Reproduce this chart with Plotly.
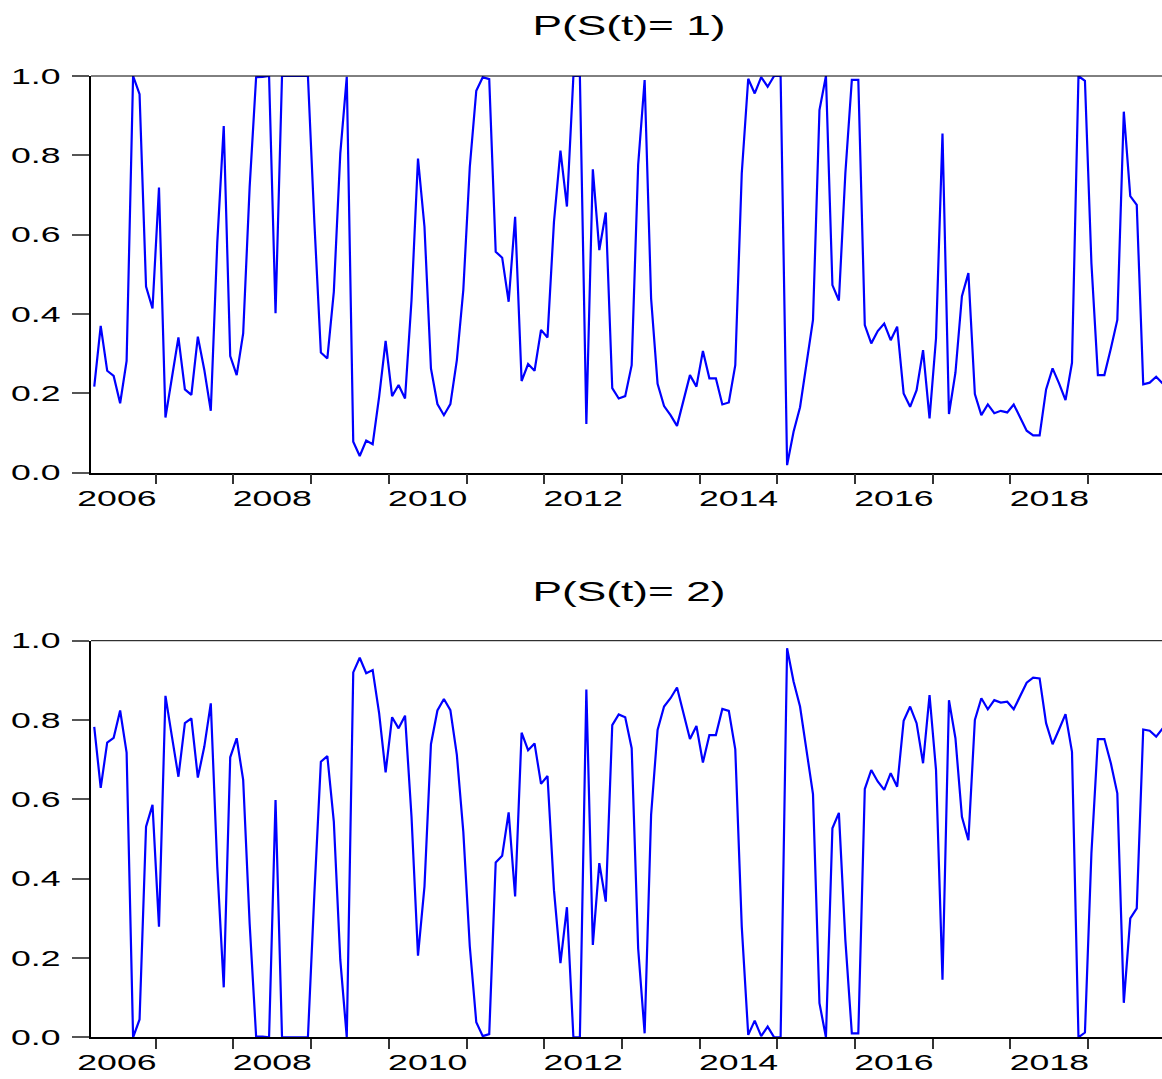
import plotly.graph_objects as go

# ---------------- data (monthly, starting 2006M3) ----------------
start_year = 2006
start_month = 3

p_state1 = [
    0.217, 0.370, 0.257, 0.244, 0.175, 0.282, 1.000, 0.954, 0.469, 0.414,
    0.719, 0.139, 0.240, 0.341, 0.210, 0.196, 0.343, 0.259, 0.156, 0.580,
    0.874, 0.294, 0.246, 0.351, 0.720, 0.997, 0.998, 1.000, 0.402, 1.000,
    1.000, 1.000, 1.000, 1.000, 0.630, 0.303, 0.288, 0.456, 0.805, 0.998,
    0.078, 0.042, 0.081, 0.072, 0.192, 0.332, 0.193, 0.221, 0.187, 0.435,
    0.792, 0.620, 0.263, 0.173, 0.145, 0.173, 0.284, 0.461, 0.771, 0.963,
    0.997, 0.992, 0.557, 0.542, 0.431, 0.645, 0.231, 0.274, 0.257, 0.360,
    0.341, 0.633, 0.812, 0.671, 1.000, 1.000, 0.123, 0.765, 0.561, 0.656,
    0.213, 0.187, 0.193, 0.271, 0.776, 0.990, 0.439, 0.224, 0.168, 0.145,
    0.118, 0.183, 0.246, 0.217, 0.307, 0.238, 0.238, 0.172, 0.177, 0.271,
    0.755, 0.993, 0.956, 0.997, 0.973, 1.000, 1.000, 0.019, 0.103, 0.165,
    0.280, 0.385, 0.914, 1.000, 0.473, 0.434, 0.755, 0.990, 0.990, 0.372,
    0.326, 0.357, 0.376, 0.334, 0.368, 0.200, 0.166, 0.208, 0.309, 0.137,
    0.339, 0.855, 0.148, 0.252, 0.445, 0.503, 0.198, 0.145, 0.172, 0.150,
    0.156, 0.152, 0.172, 0.139, 0.106, 0.094, 0.094, 0.210, 0.263, 0.225,
    0.183, 0.277, 1.000, 0.988, 0.528, 0.246, 0.246, 0.313, 0.385, 0.910,
    0.697, 0.675, 0.223, 0.227, 0.242, 0.225,
]

p_state2 = [
    0.783, 0.629, 0.743, 0.755, 0.824, 0.718, 0.000, 0.045, 0.531, 0.586,
    0.279, 0.861, 0.758, 0.657, 0.792, 0.804, 0.655, 0.733, 0.842, 0.430,
    0.126, 0.706, 0.754, 0.649, 0.287, 0.002, 0.002, 0.000, 0.598, 0.000,
    0.000, 0.000, 0.000, 0.000, 0.363, 0.695, 0.709, 0.544, 0.195, 0.000,
    0.920, 0.957, 0.918, 0.926, 0.817, 0.668, 0.807, 0.779, 0.811, 0.556,
    0.206, 0.380, 0.739, 0.824, 0.853, 0.825, 0.712, 0.518, 0.229, 0.038,
    0.003, 0.008, 0.441, 0.458, 0.567, 0.355, 0.768, 0.724, 0.741, 0.639,
    0.659, 0.371, 0.187, 0.328, 0.000, 0.000, 0.877, 0.233, 0.439, 0.342,
    0.787, 0.814, 0.807, 0.729, 0.224, 0.010, 0.561, 0.775, 0.834, 0.855,
    0.882, 0.817, 0.752, 0.785, 0.693, 0.762, 0.762, 0.828, 0.823, 0.726,
    0.279, 0.006, 0.042, 0.003, 0.027, 0.000, 0.000, 0.981, 0.897, 0.834,
    0.720, 0.613, 0.086, 0.000, 0.527, 0.566, 0.245, 0.010, 0.010, 0.626,
    0.674, 0.645, 0.624, 0.666, 0.632, 0.798, 0.834, 0.792, 0.691, 0.863,
    0.674, 0.145, 0.850, 0.754, 0.556, 0.497, 0.800, 0.855, 0.827, 0.850,
    0.844, 0.846, 0.827, 0.861, 0.894, 0.907, 0.905, 0.792, 0.739, 0.776,
    0.815, 0.720, 0.000, 0.012, 0.464, 0.752, 0.752, 0.691, 0.615, 0.087,
    0.300, 0.325, 0.776, 0.773, 0.758, 0.779,
]

panel_titles = ["P(S(t)= 1)", "P(S(t)= 2)"]
year_labels = ["2006", "2008", "2010", "2012", "2014", "2016", "2018"]
y_tick_values = [0.0, 0.2, 0.4, 0.6, 0.8, 1.0]
first_year_tick = 2007
last_year_tick = 2019

# ---------------- derived positions ----------------
x_vals = [start_year + (start_month - 1 + i + 0.5) / 12 for i in range(len(p_state1))]
label_pos = [int(l) + 0.5 for l in year_labels]
year_ticks = list(range(first_year_tick, last_year_tick + 1))
x_range = [start_year + (start_month - 1) / 12, 2019.95]

W, H = 1162, 1079
FONT = "Liberation Sans"
BLUE = "#0000FF"

fig = go.Figure()
fig.add_trace(go.Scatter(x=x_vals, y=p_state1, mode="lines",
                         line=dict(color=BLUE, width=2.2), xaxis="x", yaxis="y",
                         showlegend=False, hoverinfo="skip"))
fig.add_trace(go.Scatter(x=x_vals, y=p_state2, mode="lines",
                         line=dict(color=BLUE, width=2.2), xaxis="x2", yaxis="y2",
                         showlegend=False, hoverinfo="skip"))

x_dom = [91 / W, 1.0]
top_dom = [1 - 472.7 / H, 1 - 76.0 / H]
bot_dom = [1 - 1037.3 / H, 1 - 640.7 / H]


def xaxis_cfg(anchor):
    return dict(
        domain=x_dom, anchor=anchor, range=x_range, fixedrange=True, automargin=False,
        tickmode="array", tickvals=label_pos, ticktext=year_labels,
        ticks="outside", ticklen=2, tickcolor="rgba(0,0,0,0)",
        ticklabelstandoff=3,
        tickfont=dict(family=FONT, size=22, color="black"),
        showgrid=False, zeroline=False,
        showline=True, linecolor="black", linewidth=1.5,
        minor=dict(tickmode="array", tickvals=year_ticks, ticks="outside",
                   ticklen=10, tickwidth=1.5, tickcolor="#333", showgrid=False),
    )


def yaxis_cfg(anchor, dom):
    return dict(
        domain=dom, anchor=anchor, range=[0, 1], fixedrange=True, automargin=False,
        tickmode="array", tickvals=y_tick_values,
        ticktext=[f"{v:.1f}" for v in y_tick_values],
        ticks="outside", ticklen=17, tickwidth=1.5, tickcolor="#555",
        ticklabelstandoff=7,
        tickfont=dict(family=FONT, size=22, color="black"),
        showgrid=False, zeroline=False,
        showline=True, linecolor="black", linewidth=2,
    )


fig.update_layout(
    template="none",
    width=W, height=H,
    margin=dict(l=0, r=0, t=0, b=0, autoexpand=False),
    paper_bgcolor="white", plot_bgcolor="white",
    xaxis=xaxis_cfg("y"), yaxis=yaxis_cfg("x", top_dom),
    xaxis2=xaxis_cfg("y2"), yaxis2=yaxis_cfg("x2", bot_dom),
    shapes=[
        dict(type="line", xref="x domain", yref="y domain", x0=0, x1=1, y0=1, y1=1,
             line=dict(color="black", width=1)),
        dict(type="line", xref="x2 domain", yref="y2 domain", x0=0, x1=1, y0=1, y1=1,
             line=dict(color="black", width=1)),
    ],
    annotations=[
        dict(text=panel_titles[0], xref="paper", yref="paper", x=629 / W, y=1 - 26 / H,
             xanchor="center", yanchor="middle", showarrow=False,
             font=dict(family=FONT, size=28, color="black")),
        dict(text=panel_titles[1], xref="paper", yref="paper", x=629 / W, y=1 - 591 / H,
             xanchor="center", yanchor="middle", showarrow=False,
             font=dict(family=FONT, size=28, color="black")),
    ],
)

# page without margins/scrollbars, and horizontally stretched text like the
# original (wide EViews-style glyphs)
post_js = """
document.documentElement.style.margin = '0';
document.documentElement.style.overflow = 'hidden';
document.body.style.margin = '0';
document.body.style.padding = '0';
document.body.style.overflow = 'hidden';
var gd = document.getElementById('{plot_id}');
function stretchAll(sel, s){
  gd.querySelectorAll(sel).forEach(function(t){
    if (t.getAttribute('data-stretched')) return;
    var x = parseFloat(t.getAttribute('x') || 0), y = parseFloat(t.getAttribute('y') || 0);
    var tr = t.getAttribute('transform') || '';
    t.setAttribute('transform', tr + ' translate(' + x + ',' + y + ') scale(' + s + ',1) translate(' + (-x) + ',' + (-y) + ')');
    t.setAttribute('data-stretched', '1');
  });
}
stretchAll('g.xtick text, g.x2tick text, g.ytick text, g.y2tick text', 1.62);
stretchAll('text.annotation-text', 1.58);
"""

fig.write_html("out.html", post_script=post_js, config={"displayModeBar": False, "responsive": False})
